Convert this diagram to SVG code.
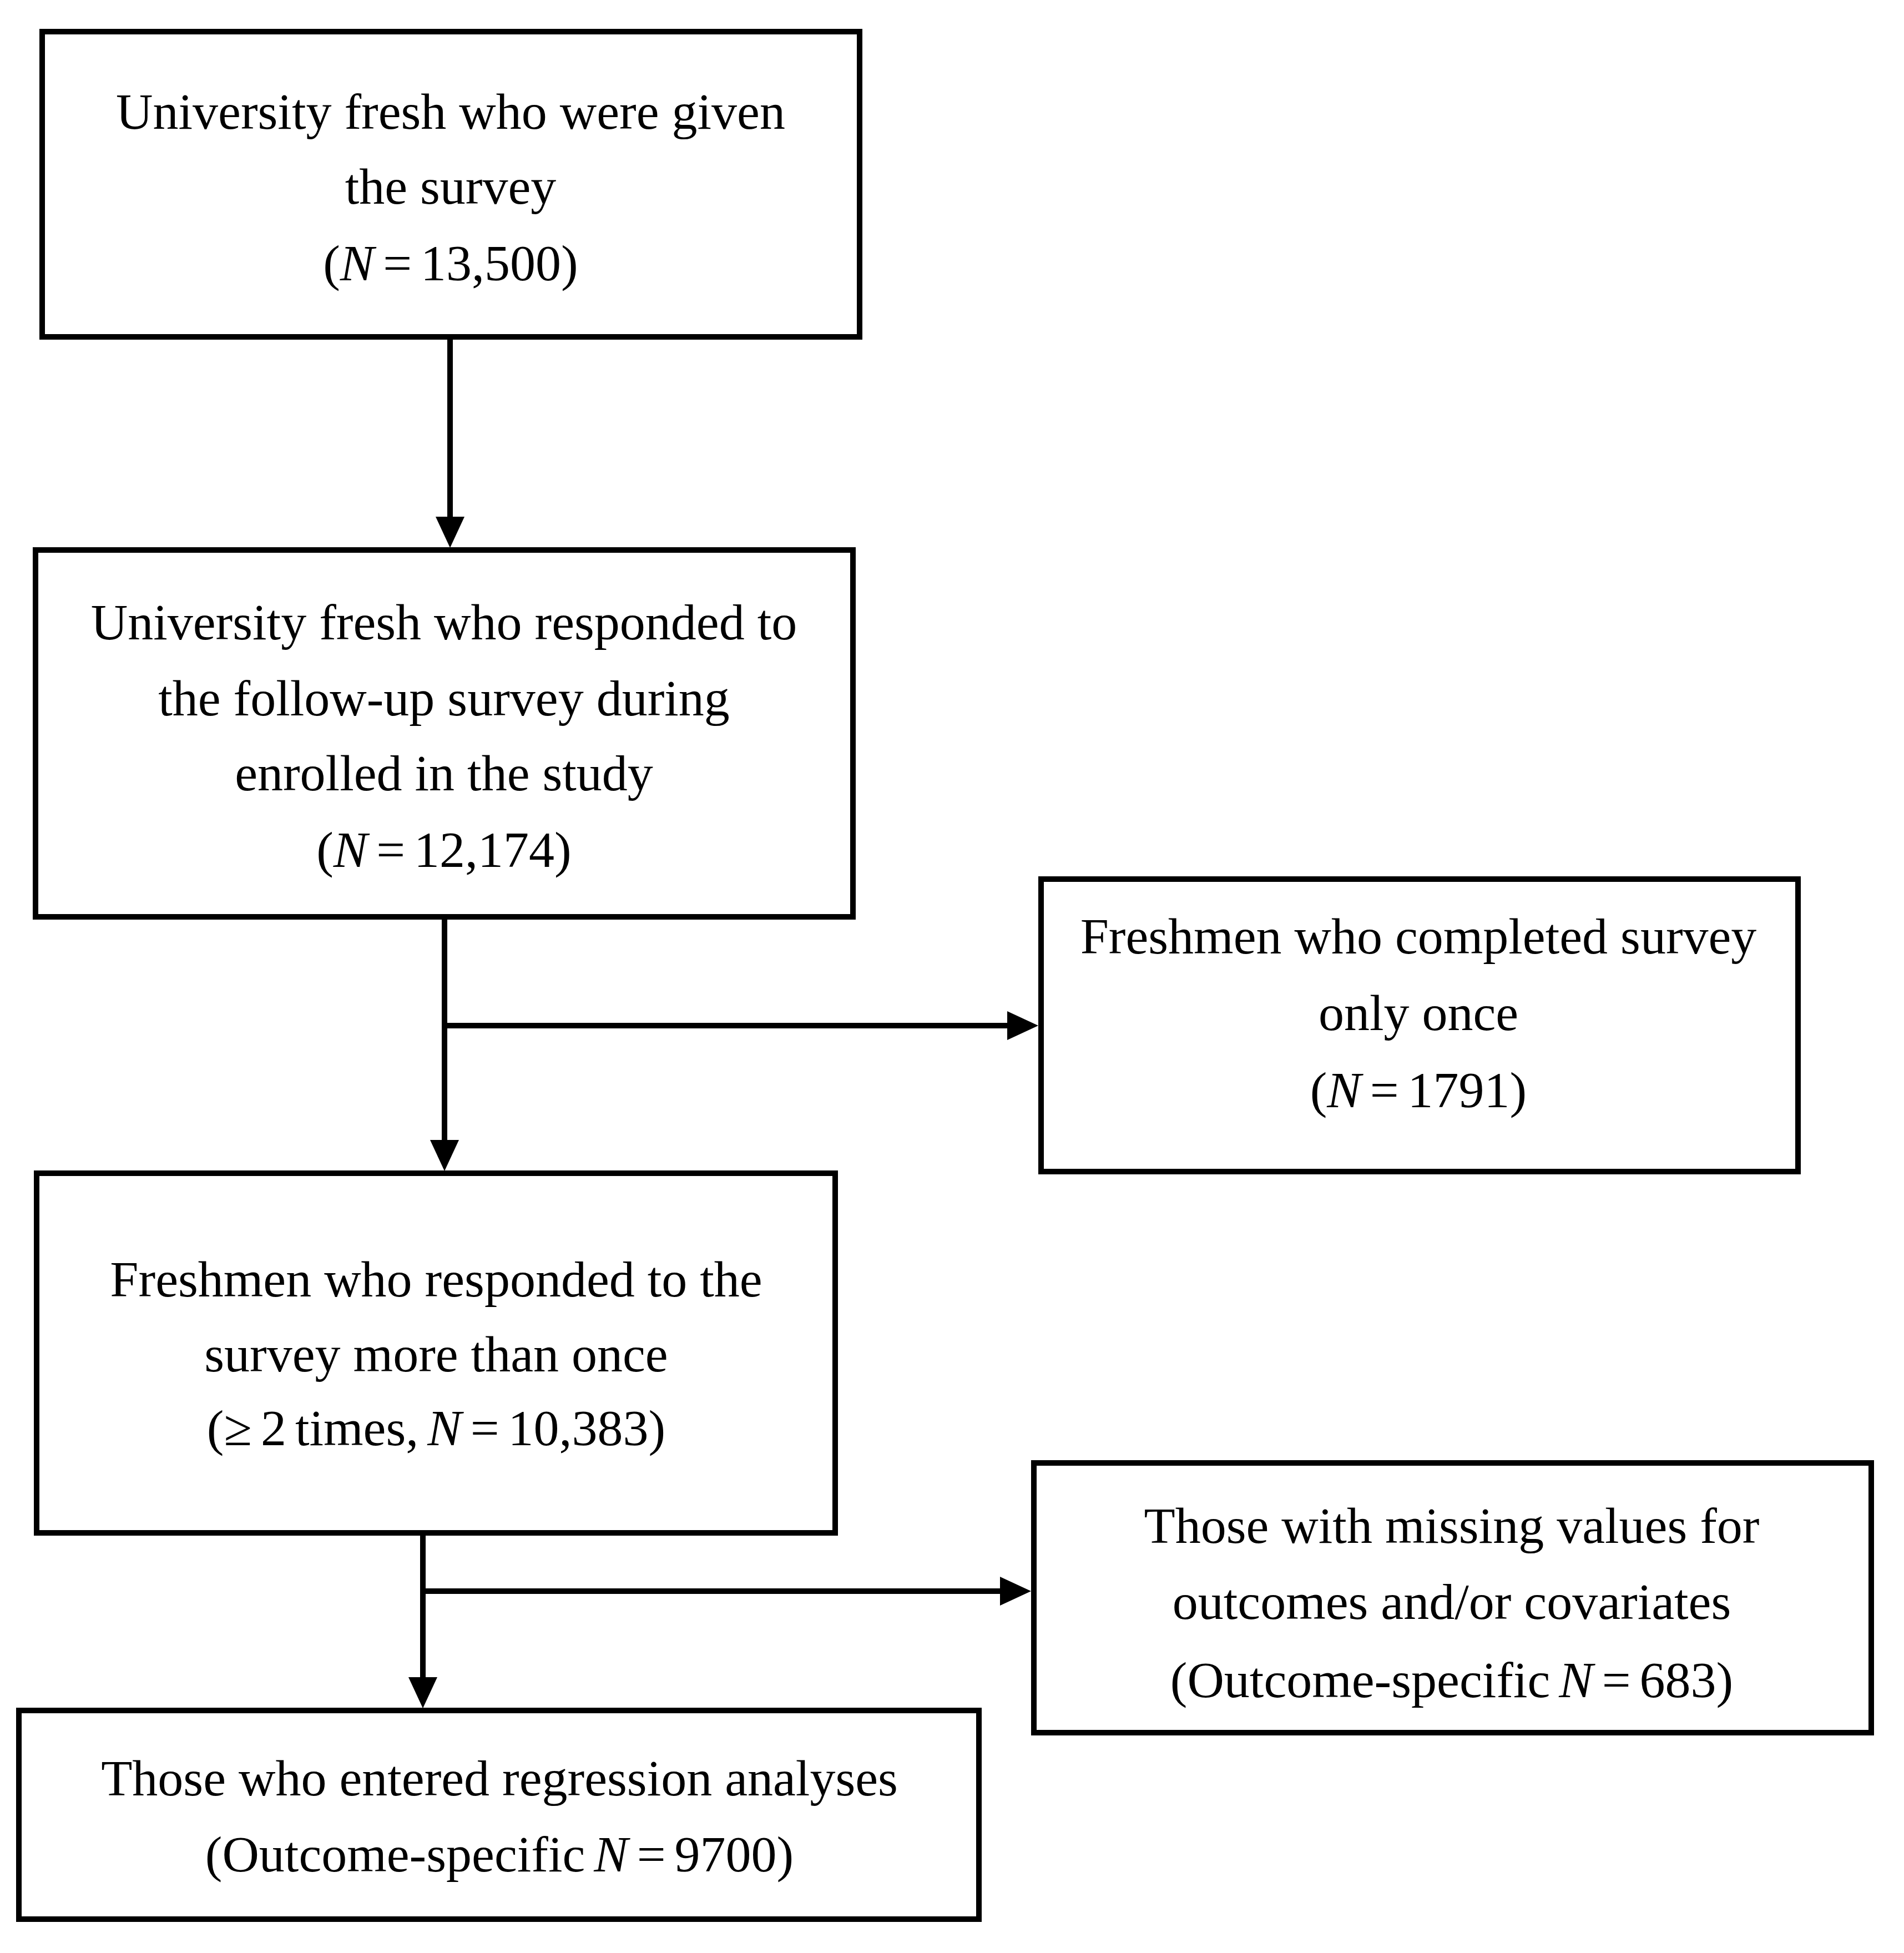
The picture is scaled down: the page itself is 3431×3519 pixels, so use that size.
<svg xmlns="http://www.w3.org/2000/svg" width="3431" height="3519" viewBox="0 0 3431 3519">
<style>
.box{fill:#fff;stroke:#000;stroke-width:10}
.ln{fill:none;stroke:#000;stroke-width:10}
.ah{fill:#000;stroke:none}
text{font-family:"Liberation Serif","Times New Roman",serif;font-size:92px;fill:#000;text-anchor:middle}
.n{word-spacing:-7px}
.i{font-style:italic}
</style>
<rect width="3431" height="3519" fill="#fff"/>
<g id="connectors">
<line class="ln" x1="811" y1="607" x2="811" y2="940"/>
<polygon class="ah" points="785,931 837,931 811,987"/>
<line class="ln" x1="801" y1="1652" x2="801" y2="2066"/>
<polygon class="ah" points="775,2054 827,2054 801,2110"/>
<line class="ln" x1="801" y1="1848" x2="1830" y2="1848"/>
<polygon class="ah" points="1815,1822 1815,1874 1871,1848"/>
<line class="ln" x1="762" y1="2762" x2="762" y2="3040"/>
<polygon class="ah" points="736,3022 788,3022 762,3078"/>
<line class="ln" x1="762" y1="2867" x2="1820" y2="2867"/>
<polygon class="ah" points="1802,2841 1802,2893 1858,2867"/>
</g>
<g id="n1">
<rect class="box" x="76" y="57" width="1473" height="550"/>
<text x="812" y="232">University fresh who were given</text>
<text x="812" y="367">the survey</text>
<text class="n" x="812" y="505">(<tspan class="i">N</tspan> = 13,500)</text>
</g>
<g id="n2">
<rect class="box" x="64" y="991" width="1473" height="661"/>
<text x="800" y="1152">University fresh who responded to</text>
<text x="800" y="1289">the follow-up survey during</text>
<text x="800" y="1424">enrolled in the study</text>
<text class="n" x="800" y="1562">(<tspan class="i">N</tspan> = 12,174)</text>
</g>
<g id="n3">
<rect class="box" x="1876" y="1584" width="1364" height="527"/>
<text x="2556" y="1718">Freshmen who completed survey</text>
<text x="2556" y="1856">only once</text>
<text class="n" x="2556" y="1995">(<tspan class="i">N</tspan> = 1791)</text>
</g>
<g id="n4">
<rect class="box" x="66" y="2114" width="1439" height="648"/>
<text x="786" y="2336">Freshmen who responded to the</text>
<text x="786" y="2471">survey more than once</text>
<text class="n" x="786" y="2604">(≥ 2 times, <tspan class="i">N</tspan> = 10,383)</text>
</g>
<g id="n5">
<rect class="box" x="1863" y="2636" width="1509" height="486"/>
<text x="2616" y="2780">Those with missing values for</text>
<text x="2616" y="2917">outcomes and/or covariates</text>
<text class="n" x="2616" y="3058">(Outcome-specific <tspan class="i">N</tspan> = 683)</text>
</g>
<g id="n6">
<rect class="box" x="34" y="3082" width="1730" height="376"/>
<text x="900" y="3235">Those who entered regression analyses</text>
<text class="n" x="900" y="3372">(Outcome-specific <tspan class="i">N</tspan> = 9700)</text>
</g>
</svg>
